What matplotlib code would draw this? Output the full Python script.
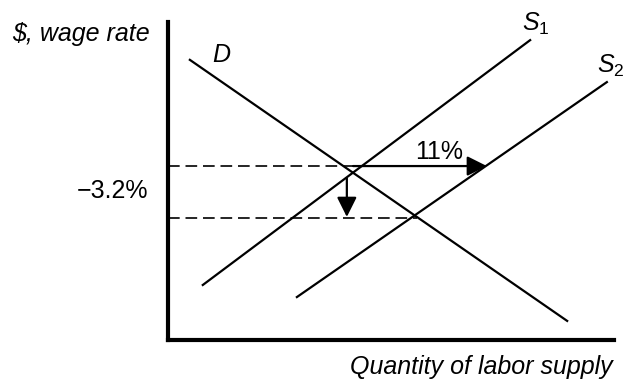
import matplotlib.pyplot as plt

plt.rcParams['font.family'] = ['Liberation Sans', 'DejaVu Sans']
plt.rcParams['mathtext.fontset'] = 'custom'
plt.rcParams['mathtext.it'] = 'Liberation Sans:italic'
plt.rcParams['mathtext.rm'] = 'Liberation Sans'

# curve end points (quantity, wage), axes run 0..100
d_x = [4.9, 89.5]
d_y = [88.1, 6.0]
s1_x = [7.8, 81.2]
s1_y = [17.3, 94.3]
s2_x = [28.9, 98.4]
s2_y = [13.5, 81.1]

# dashed wage levels and where they stop
wage_levels = [54.7, 38.4]
level_ends = [41.5, 55.8]

# shift arrows: (start, end)
supply_shift = [(41.5, 54.7), (71.5, 54.7)]
wage_drop = [(40.1, 50.9), (40.1, 38.7)]

fig = plt.figure(figsize=(6.25, 3.79), dpi=100)
ax = fig.add_axes([168 / 625, 39 / 379, 446 / 625, 318 / 379])
ax.set_xlim(0, 100)
ax.set_ylim(0, 100)
for side in ['top', 'right']:
    ax.spines[side].set_visible(False)
for side in ['left', 'bottom']:
    ax.spines[side].set_linewidth(3)
ax.set_xticks([])
ax.set_yticks([])

ax.plot(d_x, d_y, color='black', lw=1.6)
ax.plot(s1_x, s1_y, color='black', lw=1.6)
ax.plot(s2_x, s2_y, color='black', lw=1.6)

for lvl, end in zip(wage_levels, level_ends):
    ax.plot([0, end], [lvl, lvl], color='black', lw=1.2, dashes=(7, 3.5))

arrow = dict(arrowstyle='-|>,head_length=0.6,head_width=0.3', color='black',
             lw=1.6, mutation_scale=20, shrinkA=0, shrinkB=0)
ax.annotate('', xy=supply_shift[1], xytext=supply_shift[0], arrowprops=arrow)
ax.annotate('', xy=wage_drop[1], xytext=wage_drop[0], arrowprops=arrow)

fs = 18
ax.text(-35.0, 94.0, '$, wage rate', fontsize=fs, style='italic', ha='left',
        va='baseline', clip_on=False)
ax.text(12.0, 89.5, 'D', fontsize=fs, style='italic', ha='center', va='center')
ax.text(82.5, 99.4, r'$S_1$', fontsize=fs, ha='center', va='center', clip_on=False)
ax.text(99.3, 86.2, r'$S_2$', fontsize=fs, ha='center', va='center', clip_on=False)
ax.text(60.8, 59.1, '11%', fontsize=fs, ha='center', va='center')
ax.text(-4.5, 47.0, '\u22123.2%', fontsize=fs, ha='right', va='center', clip_on=False)
ax.text(99.8, -10.7, 'Quantity of labor supply', fontsize=fs, style='italic',
        ha='right', va='baseline', clip_on=False)

fig.savefig('out.png', dpi=100)
